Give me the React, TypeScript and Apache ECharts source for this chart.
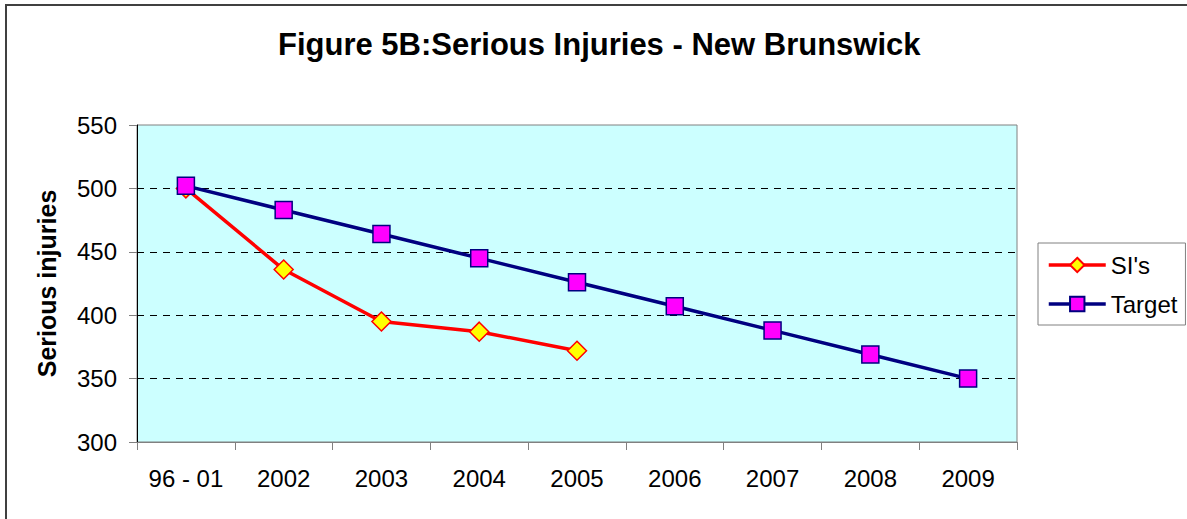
import React, { useEffect, useRef } from "react";
import * as echarts from "echarts";

const categories = ["96 - 01", "2002", "2003", "2004", "2005", "2006", "2007", "2008", "2009"];
const siValues = [500, 436, 395, 387, 372];
const targetValues = [502, 483, 464, 445, 426, 407, 388, 369, 350];
const yTicks = { min: 300, max: 550, interval: 50 };

export default function App() {
  const ref = useRef<HTMLDivElement>(null);
  useEffect(() => {
    if (!ref.current) return;
    const chart = echarts.init(ref.current, undefined, { renderer: "svg" });
    const font = "'Liberation Sans', Arial, sans-serif";
    chart.setOption({
      animation: false,
      backgroundColor: "#ffffff",
      textStyle: { fontFamily: font },
      title: {
        text: "Figure 5B:Serious Injuries - New Brunswick",
        left: 278,
        top: 29,
        padding: 0,
        textStyle: { fontFamily: font, fontSize: 31, fontWeight: "bold", color: "#000" },
      },
      graphic: [
        {
          type: "polyline",
          shape: { points: [[6, 519], [6, 5], [1187, 5]] },
          style: { stroke: "#404040", lineWidth: 2, fill: "none" },
          silent: true,
        },
      ],
      legend: {
        orient: "vertical",
        left: 1038,
        top: 243,
        padding: [10, 8, 9, 9],
        borderColor: "#808080",
        borderWidth: 1,
        itemWidth: 57,
        itemHeight: 18,
        itemGap: 15,
        lineStyle: { width: 3.5 },
        textStyle: { fontFamily: font, fontSize: 24, color: "#000" },
        data: ["SI's", "Target"],
      },
      grid: {
        left: 137,
        right: 170,
        top: 125,
        bottom: 77,
        show: true,
        backgroundColor: "#CCFFFF",
        borderColor: "#808080",
        borderWidth: 1,
      },
      xAxis: {
        type: "category",
        data: categories,
        boundaryGap: true,
        axisLine: { show: true, lineStyle: { color: "#808080", width: 1 } },
        axisTick: { show: true, length: 8, lineStyle: { color: "#808080" } },
        axisLabel: { fontFamily: font, fontSize: 24, color: "#000", margin: 24 },
        splitLine: { show: false },
      },
      yAxis: {
        type: "value",
        min: yTicks.min,
        max: yTicks.max,
        interval: yTicks.interval,
        name: "Serious injuries",
        nameLocation: "middle",
        nameGap: 78,
        nameTextStyle: { fontFamily: font, fontSize: 25, fontWeight: "bold", color: "#000" },
        axisLine: { show: true, lineStyle: { color: "#000", width: 1 } },
        axisTick: { show: true, length: 8, lineStyle: { color: "#808080" } },
        axisLabel: { fontFamily: font, fontSize: 24, color: "#000", margin: 20 },
        splitLine: {
          show: true,
          showMinLine: false,
          showMaxLine: false,
          lineStyle: { color: "#000", width: 1, type: [7, 6] },
        },
      },
      series: [
        {
          name: "SI's",
          type: "line",
          data: siValues,
          symbol: "diamond",
          symbolSize: 19,
          lineStyle: { color: "#FF0000", width: 3.5 },
          itemStyle: { color: "#FFFF00", borderColor: "#FF0000", borderWidth: 1.5 },
          z: 2,
        },
        {
          name: "Target",
          type: "line",
          data: targetValues,
          symbol: "rect",
          symbolSize: 17,
          lineStyle: { color: "#000080", width: 3.5 },
          itemStyle: { color: "#FF00FF", borderColor: "#000080", borderWidth: 1.5 },
          z: 3,
        },
      ],
    });
    return () => chart.dispose();
  }, []);
  return (
    <div
      ref={ref}
      style={{ position: "absolute", left: 0, top: 0, width: 1187, height: 519 }}
    />
  );
}
